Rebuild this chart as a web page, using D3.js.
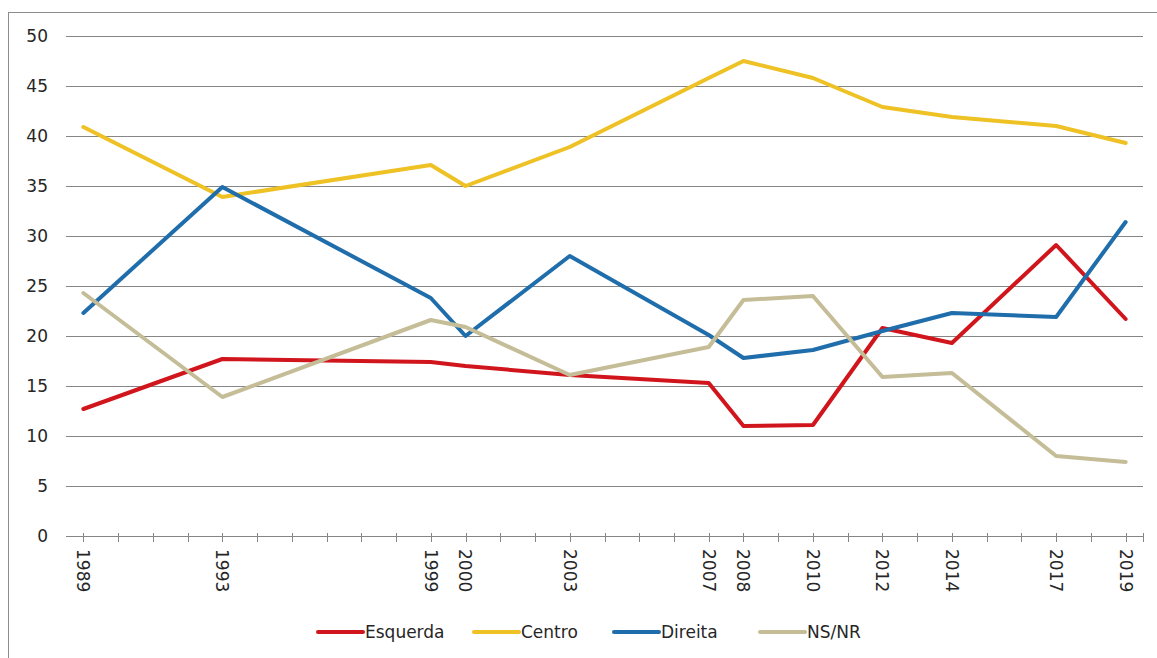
<!DOCTYPE html>
<html>
<head>
<meta charset="utf-8">
<script src="https://cdn.jsdelivr.net/npm/d3@7"></script>
<style>
  html, body { margin: 0; padding: 0; background: #fff; }
  svg { display: block; }
  text { font-family: "DejaVu Sans", Verdana, sans-serif; fill: #262626; }
</style>
</head>
<body>
<svg id="chart" width="1157" height="658"></svg>
<script>
const years = [1989, 1993, 1999, 2000, 2003, 2007, 2008, 2010, 2012, 2014, 2017, 2019];
const esquerda = [12.7, 17.7, 17.4, 17.0, 16.1, 15.3, 11.0, 11.1, 20.8, 19.3, 29.1, 21.7];
const centro   = [40.9, 33.9, 37.1, 35.0, 38.9, 45.8, 47.5, 45.8, 42.9, 41.9, 41.0, 39.3];
const direita  = [22.3, 34.9, 23.8, 20.0, 28.0, 20.1, 17.8, 18.6, 20.5, 22.3, 21.9, 31.4];
const nsnr     = [24.3, 13.9, 21.6, 20.9, 16.1, 18.9, 23.6, 24.0, 15.9, 16.3, 8.0, 7.4];
const seriesNames = ["Esquerda", "Centro", "Direita", "NS/NR"];
const seriesColors = ["#d0161c", "#eec125", "#1f6eab", "#c4bd97"];
const yTicks = [0, 5, 10, 15, 20, 25, 30, 35, 40, 45, 50];

const seriesValues = [esquerda, centro, direita, nsnr];
const svg = d3.select("#chart");

// outer frame
svg.append("rect").attr("x", 8.5).attr("y", 12.5).attr("width", 1160).attr("height", 660)
  .attr("fill", "none").attr("stroke", "#8c8c8c").attr("stroke-width", 1);

const x = d3.scaleLinear().domain([1988.5, 2019.5]).range([66, 1143]);
const y = d3.scaleLinear().domain([0, 50]).range([536, 36]);

// gridlines
svg.append("g").selectAll("line").data(yTicks.filter(t => t > 0)).join("line")
  .attr("x1", x(1988.5)).attr("x2", x(2019.5))
  .attr("y1", d => Math.round(y(d)) + 0.5).attr("y2", d => Math.round(y(d)) + 0.5)
  .attr("stroke", "#868686").attr("stroke-width", 1);

// y labels
svg.append("g").selectAll("text").data(yTicks).join("text")
  .attr("x", 48).attr("y", d => y(d)).attr("dy", "0.36em")
  .attr("text-anchor", "end").style("font-size", "17px").text(d => d);

// x axis line and ticks
const allYears = d3.range(1989, 2020);
const ax = svg.append("g");
ax.append("line").attr("x1", x(1988.5)).attr("x2", x(2019.5))
  .attr("y1", y(0) + 0.5).attr("y2", y(0) + 0.5)
  .attr("stroke", "#868686").attr("stroke-width", 1);
ax.selectAll("line.tick").data(allYears.concat([2019.5])).join("line").attr("class", "tick")
  .attr("x1", d => Math.round(x(d)) + 0.5).attr("x2", d => Math.round(x(d)) + 0.5)
  .attr("y1", y(0) - 3).attr("y2", y(0) + 6)
  .attr("stroke", "#868686").attr("stroke-width", 1);

// x labels (rotated, reading top to bottom)
svg.append("g").selectAll("text").data(years).join("text")
  .attr("transform", d => `translate(${x(d)},${549}) rotate(90)`)
  .attr("dy", "0.36em").attr("text-anchor", "start")
  .style("font-size", "17px").text(d => d);

// lines
const line = d3.line().x((d, i) => x(years[i])).y(d => y(d));
svg.append("g").selectAll("path").data(seriesValues).join("path")
  .attr("d", d => line(d)).attr("fill", "none")
  .attr("stroke", (d, i) => seriesColors[i]).attr("stroke-width", 4)
  .attr("stroke-linejoin", "round").attr("stroke-linecap", "round");

// legend
const legendX = [318, 474, 614, 760];
const lg = svg.append("g");
seriesNames.forEach((n, i) => {
  lg.append("line").attr("x1", legendX[i]).attr("x2", legendX[i] + 45)
    .attr("y1", 632).attr("y2", 632)
    .attr("stroke", seriesColors[i]).attr("stroke-width", 4).attr("stroke-linecap", "round");
  lg.append("text").attr("x", legendX[i] + 47).attr("y", 632).attr("dy", "0.36em")
    .style("font-size", "17px").text(n);
});
</script>
</body>
</html>
